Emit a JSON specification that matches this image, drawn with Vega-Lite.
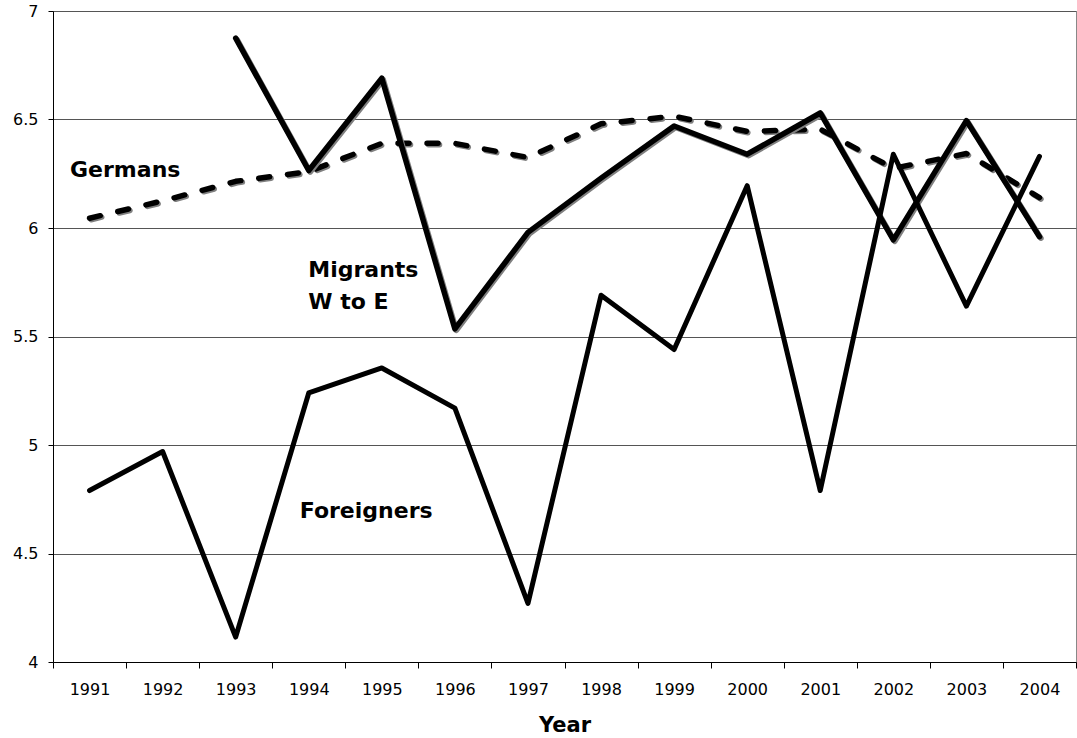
{
  "$schema": "https://vega.github.io/schema/vega-lite/v6.json",
  "width": 1023,
  "height": 651,
  "autosize": {"type": "none"},
  "padding": {"left": 53, "top": 11, "right": 1, "bottom": 76},
  "background": "white",
  "config": {
    "view": {"stroke": "#888888", "strokeWidth": 1},
    "font": "DejaVu Sans",
    "axis": {"labelFont": "DejaVu Sans", "titleFont": "DejaVu Sans", "labelColor": "black", "titleColor": "black", "domainColor": "black", "tickColor": "black"}
  },
  "datasets": {
    "series": [
      {"series": "Foreigners", "year": 1991, "value": 4.79},
      {"series": "Foreigners", "year": 1992, "value": 4.97},
      {"series": "Foreigners", "year": 1993, "value": 4.115},
      {"series": "Foreigners", "year": 1994, "value": 5.24},
      {"series": "Foreigners", "year": 1995, "value": 5.355},
      {"series": "Foreigners", "year": 1996, "value": 5.17},
      {"series": "Foreigners", "year": 1997, "value": 4.27},
      {"series": "Foreigners", "year": 1998, "value": 5.69},
      {"series": "Foreigners", "year": 1999, "value": 5.44},
      {"series": "Foreigners", "year": 2000, "value": 6.195},
      {"series": "Foreigners", "year": 2001, "value": 4.79},
      {"series": "Foreigners", "year": 2002, "value": 6.34},
      {"series": "Foreigners", "year": 2003, "value": 5.64},
      {"series": "Foreigners", "year": 2004, "value": 6.33},
      {"series": "Migrants", "year": 1993, "value": 6.875},
      {"series": "Migrants", "year": 1994, "value": 6.265},
      {"series": "Migrants", "year": 1995, "value": 6.69},
      {"series": "Migrants", "year": 1996, "value": 5.535},
      {"series": "Migrants", "year": 1997, "value": 5.98},
      {"series": "Migrants", "year": 1998, "value": 6.23},
      {"series": "Migrants", "year": 1999, "value": 6.47},
      {"series": "Migrants", "year": 2000, "value": 6.34},
      {"series": "Migrants", "year": 2001, "value": 6.53},
      {"series": "Migrants", "year": 2002, "value": 5.945},
      {"series": "Migrants", "year": 2003, "value": 6.495},
      {"series": "Migrants", "year": 2004, "value": 5.96},
      {"series": "Germans", "year": 1991, "value": 6.045},
      {"series": "Germans", "year": 1992, "value": 6.125},
      {"series": "Germans", "year": 1993, "value": 6.215},
      {"series": "Germans", "year": 1994, "value": 6.26},
      {"series": "Germans", "year": 1995, "value": 6.39},
      {"series": "Germans", "year": 1996, "value": 6.39},
      {"series": "Germans", "year": 1997, "value": 6.325},
      {"series": "Germans", "year": 1998, "value": 6.48},
      {"series": "Germans", "year": 1999, "value": 6.515},
      {"series": "Germans", "year": 2000, "value": 6.445},
      {"series": "Germans", "year": 2001, "value": 6.455},
      {"series": "Germans", "year": 2002, "value": 6.275},
      {"series": "Germans", "year": 2003, "value": 6.343},
      {"series": "Germans", "year": 2004, "value": 6.14}
    ],
    "labels": [
      {"label": "Germans", "year": 1991, "value": 6.235},
      {"label": "Migrants", "year": 1994, "value": 5.772},
      {"label": "W to E", "year": 1994, "value": 5.629},
      {"label": "Foreigners", "year": 1994, "value": 4.662}
    ]
  },
  "layer": [
    {
      "data": {"name": "series"},
      "transform": [{"filter": "datum.series === 'Germans'"}],
      "mark": {"type": "line", "color": "#808080", "strokeWidth": 5.5, "strokeDash": [11, 18], "strokeCap": "round", "strokeJoin": "round", "xOffset": 1.5, "yOffset": 1.5},
      "encoding": {
        "x": {"field": "year", "type": "ordinal", "bandPosition": 0.5,
          "scale": {"type": "band", "paddingInner": 0, "paddingOuter": 0, "domain": [1991,1992,1993,1994,1995,1996,1997,1998,1999,2000,2001,2002,2003,2004]},
          "axis": {"title": "Year", "titleFontSize": 21, "titleFontWeight": "bold", "titlePadding": 17, "labelFontSize": 16, "labelAngle": 0, "tickBand": "extent", "tickSize": 6, "labelPadding": 13, "grid": false}},
        "y": {"field": "value", "type": "quantitative",
          "scale": {"domain": [4, 7], "nice": false, "zero": false},
          "axis": {"title": null, "values": [4, 4.5, 5, 5.5, 6, 6.5, 7], "format": "~g", "grid": true, "gridColor": "#555555", "gridWidth": 1, "labelFontSize": 16, "tickSize": 5, "labelPadding": 10}}
      }
    },
    {
      "data": {"name": "series"},
      "transform": [{"filter": "datum.series === 'Germans'"}],
      "mark": {"type": "line", "color": "black", "strokeWidth": 5.5, "strokeDash": [11, 18], "strokeCap": "round", "strokeJoin": "round"},
      "encoding": {
        "x": {"field": "year", "type": "ordinal", "bandPosition": 0.5},
        "y": {"field": "value", "type": "quantitative"}
      }
    },
    {
      "data": {"name": "series"},
      "transform": [{"filter": "datum.series === 'Migrants'"}],
      "mark": {"type": "line", "color": "#808080", "strokeWidth": 5.5, "strokeCap": "round", "strokeJoin": "round", "xOffset": 1.5, "yOffset": 1.5},
      "encoding": {
        "x": {"field": "year", "type": "ordinal", "bandPosition": 0.5},
        "y": {"field": "value", "type": "quantitative"}
      }
    },
    {
      "data": {"name": "series"},
      "transform": [{"filter": "datum.series === 'Migrants'"}],
      "mark": {"type": "line", "color": "black", "strokeWidth": 5.5, "strokeCap": "round", "strokeJoin": "round"},
      "encoding": {
        "x": {"field": "year", "type": "ordinal", "bandPosition": 0.5},
        "y": {"field": "value", "type": "quantitative"}
      }
    },
    {
      "data": {"name": "series"},
      "transform": [{"filter": "datum.series === 'Foreigners'"}],
      "mark": {"type": "line", "color": "black", "strokeWidth": 5, "strokeCap": "round", "strokeJoin": "round"},
      "encoding": {
        "x": {"field": "year", "type": "ordinal", "bandPosition": 0.5},
        "y": {"field": "value", "type": "quantitative"}
      }
    },
    {
      "data": {"name": "labels"},
      "transform": [{"filter": "datum.label === 'Germans'"}],
      "mark": {"type": "text", "align": "left", "baseline": "alphabetic", "fontSize": 22, "fontWeight": "bold", "font": "DejaVu Sans", "color": "black", "dx": -19.5},
      "encoding": {
        "x": {"field": "year", "type": "ordinal", "bandPosition": 0.5},
        "y": {"field": "value", "type": "quantitative"},
        "text": {"field": "label"}
      }
    },
    {
      "data": {"name": "labels"},
      "transform": [{"filter": "datum.label === 'Migrants' || datum.label === 'W to E'"}],
      "mark": {"type": "text", "align": "left", "baseline": "alphabetic", "fontSize": 22, "fontWeight": "bold", "font": "DejaVu Sans", "color": "black", "dx": -0.5},
      "encoding": {
        "x": {"field": "year", "type": "ordinal", "bandPosition": 0.5},
        "y": {"field": "value", "type": "quantitative"},
        "text": {"field": "label"}
      }
    },
    {
      "data": {"name": "labels"},
      "transform": [{"filter": "datum.label === 'Foreigners'"}],
      "mark": {"type": "text", "align": "left", "baseline": "alphabetic", "fontSize": 22, "fontWeight": "bold", "font": "DejaVu Sans", "color": "black", "dx": -9},
      "encoding": {
        "x": {"field": "year", "type": "ordinal", "bandPosition": 0.5},
        "y": {"field": "value", "type": "quantitative"},
        "text": {"field": "label"}
      }
    }
  ]
}
